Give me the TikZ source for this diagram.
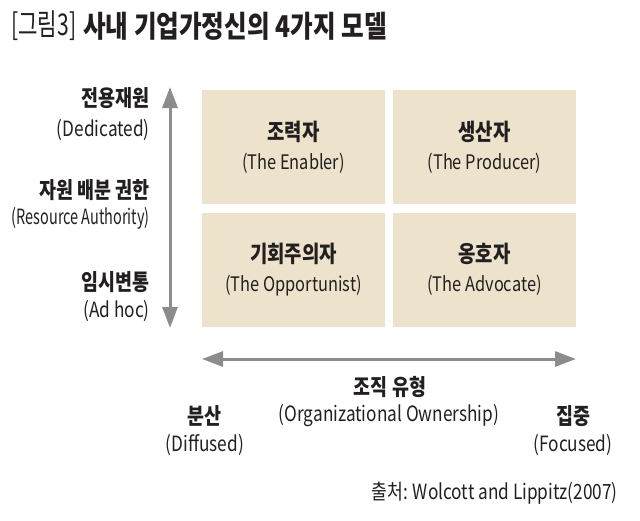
\documentclass[tikz,border=0pt]{standalone}
\usepackage{fontspec}
\usepackage{graphicx}
\setmainfont{Noto Sans CJK KR}[FakeStretch=0.82]
\usetikzlibrary{arrows.meta}

\definecolor{cellbeige}{HTML}{EDE2CC}
\definecolor{axisgray}{HTML}{8C8C8C}
\definecolor{ink}{HTML}{231F20}

\begin{document}
\begin{tikzpicture}[x=1pt, y=-1pt, text=ink,
  cell/.style={fill=cellbeige, minimum width=183pt, minimum height=114pt,
    inner sep=0pt, align=center, font=\fontsize{20}{29}\selectfont},
  axis/.style={axisgray, line width=3pt,
    {Triangle[length=21pt,width=15pt]}-{Triangle[length=21pt,width=15pt]}},
  ko/.style={font=\bfseries\fontsize{22.5}{24}\selectfont, inner sep=0pt},
  en/.style={font=\fontsize{21}{23}\selectfont, inner sep=0pt}]
  \useasboundingbox (0,0) rectangle (640,520);
  % 제목
  \node[anchor=west, inner sep=0pt, font=\fontsize{30}{32}\selectfont] (ttag) at (11,26) {\scalebox{0.86}[1]{[그림3]}};
  \node[anchor=west, inner sep=0pt, font=\bfseries\fontsize{30}{32}\selectfont] (ttl) at (83,26) {사내 기업가정신의 4가지 모델};
  % 2x2 칸: 행 = 자원 배분 권한, 열 = 조직 유형
  \node[cell] (c11) at (293.5,147) {{\bfseries\fontsize{23}{25}\selectfont 조력자}\\(The Enabler)};
  \node[cell] (c12) at (484.5,147) {{\bfseries\fontsize{23}{25}\selectfont 생산자}\\(The Producer)};
  \node[cell] (c21) at (293.5,269.5) {{\bfseries\fontsize{23}{25}\selectfont 기회주의자}\\(The Opportunist)};
  \node[cell] (c22) at (484.5,269.5) {{\bfseries\fontsize{23}{25}\selectfont 옹호자}\\(The Advocate)};
  % 축
  \coordinate (vtop) at (170,87);
  \coordinate (vbot) at (170,328);
  \coordinate (hl) at (202,359);
  \coordinate (hr) at (576,359);
  \draw[axis] (vbot) -- (vtop);
  \draw[axis] (hl) -- (hr);
  % 세로축 글자
  \node[ko, anchor=east] (dedk) at (150,98) {전용재원};
  \node[en, anchor=east] (dede) at (150,130) {(Dedicated)};
  \node[ko, anchor=east] (resk) at (150,190) {자원 배분 권한};
  \node[en, anchor=east] (rese) at (150,218) {\scalebox{0.84}[1]{(Resource Authority)}};
  \node[ko, anchor=east] (adhk) at (150,282) {임시변통};
  \node[en, anchor=east] (adhe) at (150,311) {(Ad hoc)};
  % 가로축 글자
  \node[ko] (orgk) at (390,387) {조직 유형};
  \node[en] (orge) at (389,416) {(Organizational Ownership)};
  \node[ko] (difk) at (204,416) {분산};
  \node[en] (dife) at (205,445) {(Diffused)};
  \node[ko] (fock) at (573,416) {집중};
  \node[en] (foce) at (573,445) {(Focused)};
  % 출처
  \node[en, anchor=east] (src) at (618,493) {출처: Wolcott and Lippitz(2007)};
\end{tikzpicture}
\end{document}
